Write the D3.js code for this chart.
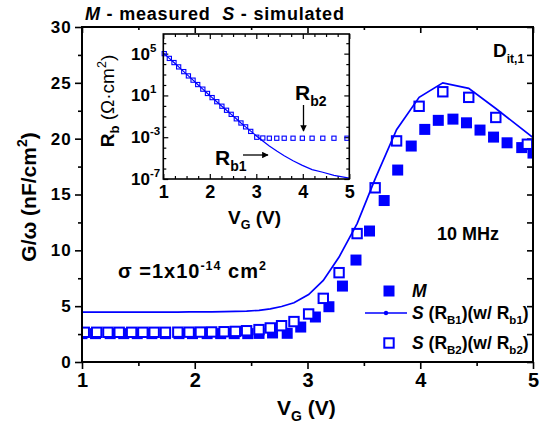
<!DOCTYPE html>
<html>
<head>
<meta charset="utf-8">
<script src="https://cdn.jsdelivr.net/npm/d3@7"></script>
<style>
  html, body { margin: 0; padding: 0; background: #fff; }
  svg { display: block; font-family: "Liberation Sans", Arial, sans-serif; }
  text { white-space: pre; }
</style>
</head>
<body>
<svg id="chart" width="541" height="427"></svg>
<script>
// ---- Main chart data: G/ω (nF/cm²) versus gate voltage V_G (V) ----
const measuredV = [1.0, 1.12, 1.25, 1.37, 1.49, 1.62, 1.74, 1.86, 1.98, 2.11, 2.23, 2.35, 2.47, 2.57,
  2.69, 2.82, 2.94, 3.07, 3.19, 3.31, 3.43, 3.55, 3.68, 3.80, 3.92, 4.04, 4.16, 4.29, 4.41, 4.53,
  4.65, 4.77, 4.90, 5.0];
const measuredG = [2.54, 2.54, 2.54, 2.54, 2.54, 2.54, 2.54, 2.54, 2.54, 2.54, 2.54, 2.54, 2.54, 2.56,
  2.6, 2.57, 3.13, 4.03, 4.95, 6.8, 9.13, 11.73, 14.46, 17.19, 19.34, 20.83, 21.64, 21.75, 21.42, 20.77,
  20.14, 19.63, 19.2, 18.71];

const simRb1V = [1.0, 1.13, 1.23, 1.33, 1.44, 1.54, 1.64, 1.74, 1.85, 1.95, 2.05, 2.15, 2.26, 2.36, 2.46,
  2.57, 2.67, 2.77, 2.88, 3.01, 3.14, 3.28, 3.44, 3.60, 3.79, 3.99, 4.20, 4.43, 4.67, 5.0];
const simRb1G = [4.47, 4.47, 4.47, 4.47, 4.47, 4.47, 4.47, 4.47, 4.47, 4.48, 4.48, 4.49, 4.51, 4.53, 4.56,
  4.63, 4.76, 4.97, 5.3, 6.04, 7.3, 9.4, 12.4, 16.4, 20.8, 23.7, 25.0, 24.5, 22.7, 20.1];

const simRb2V = [1.02, 1.13, 1.23, 1.33, 1.44, 1.54, 1.64, 1.74, 1.85, 1.95, 2.05, 2.15, 2.26, 2.36, 2.46,
  2.57, 2.67, 2.77, 2.88, 3.01, 3.14, 3.28, 3.44, 3.60, 3.79, 3.99, 4.20, 4.43, 4.67, 4.95];
const simRb2G = [2.66, 2.66, 2.66, 2.66, 2.66, 2.66, 2.66, 2.66, 2.67, 2.67, 2.68, 2.69, 2.71, 2.74, 2.8,
  2.9, 3.05, 3.25, 3.62, 4.3, 5.7, 8.0, 11.5, 15.6, 19.8, 22.9, 24.2, 23.7, 21.9, 19.5];

// ---- Inset data: bulk resistance R_b (Ω·cm²) versus V_G ----
const rb1V = simRb1V;
const rb1 = [1.2e5, 3.5e4, 1.4e4, 5.4e3, 1.9e3, 7.4e2, 2.9e2, 1.1e2, 40, 15.5, 6.2, 2.5, 0.93, 0.38, 0.155,
  0.058, 0.023, 9.8e-3, 3.8e-3, 1.26e-3, 4.3e-4, 1.45e-4, 4.7e-5, 1.66e-5, 5.6e-6, 2.0e-6, 7.9e-7, 4.4e-7,
  2.2e-7, 1.2e-7];
const rb2V = simRb2V;
const rb2 = [1.0e5, 3.5e4, 1.4e4, 5.4e3, 1.9e3, 7.4e2, 2.9e2, 1.1e2, 40, 15.5, 6.2, 2.5, 0.93, 0.38, 0.155,
  0.058, 0.023, 9.8e-3, 3.6e-3, 1.0e-3, 8.4e-4, 8e-4, 8e-4, 8e-4, 8e-4, 8e-4, 8e-4, 8e-4, 8e-4, 8e-4];

// ---- Tick values ----
const xTicks = [1, 2, 3, 4, 5];
const xMinor = [1.5, 2.5, 3.5, 4.5];
const yTicks = [0, 5, 10, 15, 20, 25, 30];
const yMinor = [2.5, 7.5, 12.5, 17.5, 22.5, 27.5];
const insetXTicks = [1, 2, 3, 4, 5];
const insetXMinor = [1.25, 1.5, 1.75, 2.25, 2.5, 2.75, 3.25, 3.5, 3.75, 4.25, 4.5, 4.75];
const insetYTicks = [1e5, 1e1, 1e-3, 1e-7];
const insetYExp = ["5", "1", "-3", "-7"];
const insetYMinor = [1e6, 1e4, 1e3, 1e2, 1e0, 1e-1, 1e-2, 1e-4, 1e-5, 1e-6];

const BLUE = "#0000ff";
const svg = d3.select("#chart");

// ---- Main plot ----
const x = d3.scaleLinear().domain([1, 5]).range([82, 533]);
const y = d3.scaleLinear().domain([0, 30]).range([362, 27]);

function styleAxis(g, fontSize) {
  g.select(".domain").remove();
  g.selectAll(".tick line").attr("stroke", "#000").attr("stroke-width", 1.6);
  g.selectAll(".tick text").attr("fill", "#000").attr("font-size", fontSize)
    .attr("font-weight", "bold").attr("font-family", "Liberation Sans, Arial, sans-serif");
}

svg.append("g").attr("transform", "translate(0,362)")
  .call(d3.axisBottom(x).tickValues(xTicks).tickSize(7).tickPadding(4).tickFormat(d3.format("d")))
  .call(g => styleAxis(g, 20));
svg.append("g").attr("transform", "translate(0,362)")
  .call(d3.axisBottom(x).tickValues(xMinor).tickSize(4).tickFormat(""))
  .call(g => styleAxis(g, 1));
svg.append("g").attr("transform", "translate(0,27)")
  .call(d3.axisTop(x).tickValues(xTicks).tickSize(-6).tickFormat(""))
  .call(g => styleAxis(g, 1));
svg.append("g").attr("transform", "translate(0,27)")
  .call(d3.axisTop(x).tickValues(xMinor).tickSize(-3).tickFormat(""))
  .call(g => styleAxis(g, 1));

svg.append("g").attr("transform", "translate(82,0)")
  .call(d3.axisLeft(y).tickValues(yTicks).tickSize(7).tickPadding(3).tickFormat(d3.format("d")))
  .call(g => styleAxis(g, 17))
  .call(g => g.selectAll(".tick text").attr("letter-spacing", 1.2));
svg.append("g").attr("transform", "translate(82,0)")
  .call(d3.axisLeft(y).tickValues(yMinor).tickSize(4).tickFormat(""))
  .call(g => styleAxis(g, 1));
svg.append("g").attr("transform", "translate(533,0)")
  .call(d3.axisRight(y).tickValues(yTicks).tickSize(-6).tickFormat(""))
  .call(g => styleAxis(g, 1));
svg.append("g").attr("transform", "translate(533,0)")
  .call(d3.axisRight(y).tickValues(yMinor).tickSize(-6).tickFormat(""))
  .call(g => styleAxis(g, 1));

svg.append("clipPath").attr("id", "plotClip")
  .append("rect").attr("x", 82).attr("y", 27).attr("width", 451).attr("height", 335);

const plot = svg.append("g").attr("clip-path", "url(#plotClip)");

const SQ = 11;
plot.append("g").selectAll("rect")
  .data(measuredV.map((v, i) => [v, measuredG[i]]))
  .join("rect")
  .attr("x", d => x(d[0]) - SQ / 2).attr("y", d => y(d[1]) - SQ / 2)
  .attr("width", SQ).attr("height", SQ).attr("fill", BLUE);

const OS = 9.4;
plot.append("g").selectAll("rect")
  .data(simRb2V.map((v, i) => [v, simRb2G[i]]))
  .join("rect")
  .attr("x", d => x(d[0]) - OS / 2).attr("y", d => y(d[1]) - OS / 2)
  .attr("width", OS).attr("height", OS)
  .attr("fill", "#fff").attr("stroke", BLUE).attr("stroke-width", 2);

plot.append("path")
  .datum(simRb1V.map((v, i) => [v, simRb1G[i]]))
  .attr("fill", "none").attr("stroke", BLUE).attr("stroke-width", 1.7)
  .attr("d", d3.line().x(d => x(d[0])).y(d => y(d[1])));

svg.append("rect").attr("x", 82).attr("y", 27).attr("width", 451).attr("height", 335)
  .attr("fill", "none").attr("stroke", "#000").attr("stroke-width", 2);

// ---- Title and annotations ----
const title = svg.append("text").attr("x", 85).attr("y", 20)
  .attr("font-size", 18).attr("font-weight", "bold").attr("letter-spacing", 0.8);
title.append("tspan").attr("font-style", "italic").text("M");
title.append("tspan").text(" - measured  ");
title.append("tspan").attr("font-style", "italic").text("S");
title.append("tspan").text(" - simulated");

const dit = svg.append("text").attr("x", 493).attr("y", 57)
  .attr("font-size", 19).attr("font-weight", "bold");
dit.append("tspan").text("D");
dit.append("tspan").attr("font-size", 12).attr("dy", 6).text("it,1");

svg.append("text").attr("x", 437).attr("y", 240)
  .attr("font-size", 18).attr("font-weight", "bold").text("10 MHz");

const sig = svg.append("text").attr("x", 118).attr("y", 278)
  .attr("font-size", 20).attr("font-weight", "bold").attr("letter-spacing", 1.0);
sig.append("tspan").text("σ =1x10");
sig.append("tspan").attr("font-size", 12.5).attr("dy", -8).text("-14");
sig.append("tspan").attr("dy", 8).text(" cm");
sig.append("tspan").attr("font-size", 12.5).attr("dy", -8).text("2");

// Axis titles
const xl = svg.append("text").attr("x", 277).attr("y", 415)
  .attr("font-size", 21).attr("font-weight", "bold");
xl.append("tspan").text("V");
xl.append("tspan").attr("font-size", 14).attr("dy", 6).text("G");
xl.append("tspan").attr("dy", -6).text(" (V)");

const yl = svg.append("text").attr("transform", "translate(36,197) rotate(-90)")
  .attr("text-anchor", "middle").attr("font-size", 21).attr("font-weight", "bold");
yl.append("tspan").text("G/ω (nF/cm");
yl.append("tspan").attr("font-size", 14).attr("dy", -9).text("2");
yl.append("tspan").attr("dy", 9).text(")");

// ---- Legend ----
const lg = svg.append("g");
lg.append("rect").attr("x", 389 - SQ / 2).attr("y", 291 - SQ / 2).attr("width", SQ).attr("height", SQ).attr("fill", BLUE);
lg.append("text").attr("x", 412).attr("y", 297).attr("font-size", 17.5)
  .attr("font-weight", "bold").attr("font-style", "italic").text("M");
lg.append("line").attr("x1", 365).attr("x2", 407).attr("y1", 313).attr("y2", 313)
  .attr("stroke", BLUE).attr("stroke-width", 1.7);
lg.append("circle").attr("cx", 386).attr("cy", 313).attr("r", 2.2).attr("fill", BLUE);
lg.append("rect").attr("x", 389 - OS / 2).attr("y", 343 - OS / 2).attr("width", OS).attr("height", OS)
  .attr("fill", "#fff").attr("stroke", BLUE).attr("stroke-width", 2);

function legendText(yBase, sub1, sub2) {
  const t = lg.append("text").attr("x", 412).attr("y", yBase).attr("font-size", 17.5).attr("font-weight", "bold");
  t.append("tspan").attr("font-style", "italic").text("S");
  t.append("tspan").text(" (R");
  t.append("tspan").attr("font-size", 11.5).attr("dy", 5).text(sub1);
  t.append("tspan").attr("dy", -5).text(")(w/ R");
  t.append("tspan").attr("font-size", 11.5).attr("dy", 5).text(sub2);
  t.append("tspan").attr("dy", -5).text(")");
}
legendText(319, "B1", "b1");
legendText(349, "B2", "b2");

// ---- Inset: R_b versus V_G ----
const ix = d3.scaleLinear().domain([1, 5]).range([163.3, 349.3]);
const iy = d3.scaleLog().domain([1e-7, 7.6e6]).range([179, 34]);

const inset = svg.append("g");
inset.append("rect").attr("x", 163.3).attr("y", 34).attr("width", 186).attr("height", 145).attr("fill", "#fff");

inset.append("g").attr("transform", "translate(0,179)")
  .call(d3.axisBottom(ix).tickValues(insetXTicks).tickSizeInner(-5).tickSizeOuter(0).tickPadding(6).tickFormat(d3.format("d")))
  .call(g => styleAxis(g, 18));
inset.append("g").attr("transform", "translate(0,179)")
  .call(d3.axisBottom(ix).tickValues(insetXMinor).tickSize(-3).tickFormat(""))
  .call(g => styleAxis(g, 1));
inset.append("g").attr("transform", "translate(0,34)")
  .call(d3.axisTop(ix).tickValues(insetXTicks).tickSize(-5).tickFormat(""))
  .call(g => styleAxis(g, 1));
inset.append("g").attr("transform", "translate(0,34)")
  .call(d3.axisTop(ix).tickValues(insetXMinor).tickSize(-3).tickFormat(""))
  .call(g => styleAxis(g, 1));
[163.3, 349.3].forEach((xp, k) => {
  const ax = k === 0 ? d3.axisLeft(iy) : d3.axisRight(iy);
  inset.append("g").attr("transform", `translate(${xp},0)`)
    .call(ax.tickValues(insetYTicks).tickSize(-5).tickFormat(""))
    .call(g => styleAxis(g, 1));
  const ax2 = k === 0 ? d3.axisLeft(iy) : d3.axisRight(iy);
  inset.append("g").attr("transform", `translate(${xp},0)`)
    .call(ax2.tickValues(insetYMinor).tickSize(-3).tickFormat(""))
    .call(g => styleAxis(g, 1));
});
inset.selectAll(".tick line").attr("stroke-width", 1.2);

inset.selectAll("text.ylab").data(insetYTicks).join("text").attr("class", "ylab")
  .attr("x", 150).attr("y", d => iy(d) + 6).attr("text-anchor", "end")
  .attr("font-size", 17).attr("font-weight", "bold").text("10");
inset.selectAll("text.yexp").data(insetYTicks).join("text").attr("class", "yexp")
  .attr("x", 150).attr("y", d => iy(d) - 2)
  .attr("font-size", 11.5).attr("font-weight", "bold").text((d, i) => insetYExp[i]);

inset.append("path")
  .datum(rb1V.map((v, i) => [v, rb1[i]]))
  .attr("fill", "none").attr("stroke", BLUE).attr("stroke-width", 1.2)
  .attr("d", d3.line().x(d => ix(d[0])).y(d => iy(d[1])));

const IS = 4.2;
inset.append("g").selectAll("rect")
  .data(rb2V.map((v, i) => [v, rb2[i]]))
  .join("rect")
  .attr("x", d => ix(d[0]) - IS / 2).attr("y", d => iy(d[1]) - IS / 2)
  .attr("width", IS).attr("height", IS)
  .attr("fill", "none").attr("stroke", BLUE).attr("stroke-width", 1.1);

inset.append("rect").attr("x", 163.3).attr("y", 34).attr("width", 186).attr("height", 145)
  .attr("fill", "none").attr("stroke", "#000").attr("stroke-width", 1.6);

// Curve labels with arrows
svg.append("defs").append("marker").attr("id", "arrowHead")
  .attr("viewBox", "0 0 10 10").attr("refX", 9).attr("refY", 5)
  .attr("markerWidth", 5).attr("markerHeight", 5).attr("orient", "auto")
  .append("path").attr("d", "M0,0 L10,5 L0,10 Z").attr("fill", "#000");

const rb2Label = inset.append("text").attr("x", 295).attr("y", 100).attr("font-size", 21).attr("font-weight", "bold");
rb2Label.append("tspan").text("R");
rb2Label.append("tspan").attr("font-size", 14).attr("dy", 6).text("b2");
inset.append("line").attr("x1", 303.5).attr("x2", 303.5).attr("y1", 105).attr("y2", 131)
  .attr("stroke", "#000").attr("stroke-width", 1.3).attr("marker-end", "url(#arrowHead)");

const rb1Label = inset.append("text").attr("x", 215).attr("y", 165).attr("font-size", 21).attr("font-weight", "bold");
rb1Label.append("tspan").text("R");
rb1Label.append("tspan").attr("font-size", 14).attr("dy", 6).text("b1");
inset.append("line").attr("x1", 243).attr("x2", 268).attr("y1", 155).attr("y2", 155)
  .attr("stroke", "#000").attr("stroke-width", 1.3).attr("marker-end", "url(#arrowHead)");

const ixl = inset.append("text").attr("x", 228).attr("y", 224).attr("font-size", 19).attr("font-weight", "bold");
ixl.append("tspan").text("V");
ixl.append("tspan").attr("font-size", 12.5).attr("dy", 5).text("G");
ixl.append("tspan").attr("dy", -5).text(" (V)");

const iyl = inset.append("text").attr("transform", "translate(114,101) rotate(-90)")
  .attr("text-anchor", "middle").attr("font-size", 19);
iyl.append("tspan").attr("font-weight", "bold").text("R");
iyl.append("tspan").attr("font-weight", "bold").attr("font-size", 13).attr("dy", 5).text("b");
iyl.append("tspan").attr("dy", -5).text(" (Ω·cm");
iyl.append("tspan").attr("font-size", 12.5).attr("dy", -8).text("2");
iyl.append("tspan").attr("dy", 8).text(")");
</script>
</body>
</html>
